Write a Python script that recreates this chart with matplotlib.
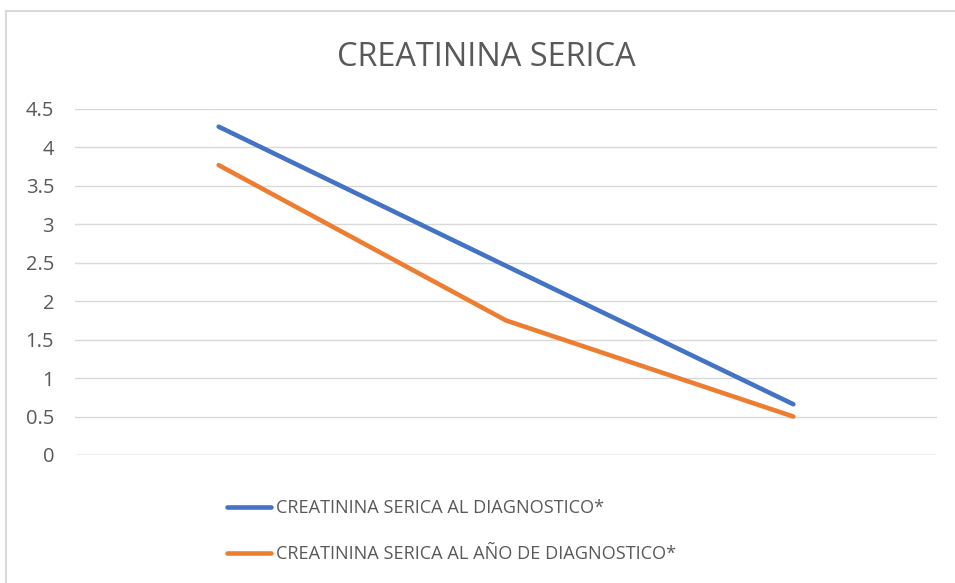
import matplotlib.pyplot as plt
from matplotlib.lines import Line2D

# Data
categories = ["1", "2", "3"]
al_diagnostico = [4.27, 2.46, 0.66]
al_anio = [3.77, 1.75, 0.50]
series_names = ["CREATININA SERICA AL DIAGNOSTICO*",
                "CREATININA SERICA AL AÑO DE DIAGNOSTICO*"]
yticks = [0, 0.5, 1, 1.5, 2, 2.5, 3, 3.5, 4, 4.5]

blue = "#4472C4"
orange = "#ED7D31"
grey_text = "#595959"

plt.rcParams['font.family'] = ['Open Sans', 'DejaVu Sans']

W, H = 955, 583
fig = plt.figure(figsize=(W / 100, H / 100), dpi=100)

# chart border (only top and left visible)
fig.add_artist(Line2D([6 / W, 1], [1 - 11 / H, 1 - 11 / H], color="#D9D9D9", lw=1.5))
fig.add_artist(Line2D([6 / W, 6 / W], [0, 1 - 11 / H], color="#D9D9D9", lw=1.5))

ax = fig.add_axes([75 / W, 128 / H, 862 / W, 346 / H])
x = range(len(categories))
ax.plot(x, al_diagnostico, color=blue, lw=3.3, solid_capstyle="round",
        solid_joinstyle="round", label=series_names[0], zorder=3)
ax.plot(x, al_anio, color=orange, lw=3.3, solid_capstyle="round",
        solid_joinstyle="round", label=series_names[1], zorder=3)

ax.set_xlim(-0.5, 2.5)
ax.set_ylim(0, 4.5)
ax.set_yticks(yticks)
ax.set_yticklabels([f"{v:g}" for v in yticks], color=grey_text, fontsize=14.5)
ax.set_xticks([])
ax.tick_params(axis="y", length=0, pad=15)
ax.grid(axis="y", color="#D9D9D9", lw=1)
for s in ax.spines.values():
    s.set_visible(False)
ax.axhline(0, color="#D9D9D9", lw=1)

fig.text(486 / W, 1 - 57 / H, "CREATININA SERICA", ha="center", va="center",
         fontsize=23.4, color=grey_text)

leg = fig.legend(loc="upper left", bbox_to_anchor=(227 / W, 1 - 499 / H),
                 frameon=False, fontsize=13.1, handlelength=2.42,
                 handletextpad=0.3, labelspacing=1.55, borderpad=0,
                 borderaxespad=0, labelcolor=grey_text)
for h in leg.get_lines():
    h.set_linewidth(3.3)
    h.set_solid_capstyle("round")

fig.savefig("out.png", dpi=100)
